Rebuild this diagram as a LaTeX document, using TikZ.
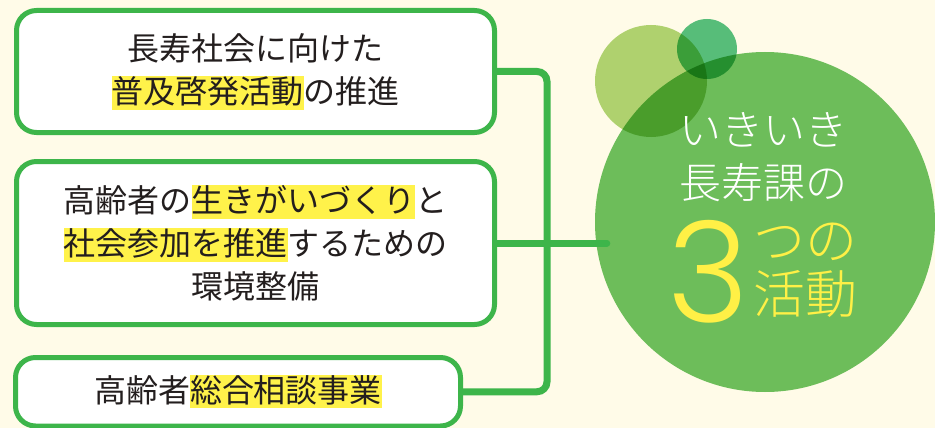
\documentclass[tikz,border=0pt]{standalone}
\usepackage{fontspec}
\setmainfont{Noto Sans CJK JP}
\newfontfamily\numfont{Poppins Light}
\newfontfamily\lightfont{Noto Sans CJK JP Light}
\usetikzlibrary{positioning,calc}

\definecolor{bgcream}{RGB}{255,251,232}
\definecolor{linegreen}{RGB}{61,181,74}
\definecolor{biggreen}{RGB}{109,189,90}
\definecolor{lightgreen}{RGB}{175,213,122}
\definecolor{tealgreen}{RGB}{87,193,134}
\definecolor{hlyellow}{RGB}{255,242,74}
\definecolor{txtyellow}{RGB}{255,240,70}
\definecolor{txtdark}{RGB}{35,30,30}

\newcommand{\hl}[1]{{\setlength{\fboxsep}{0pt}\colorbox{hlyellow}{\rule[-0.2em]{0pt}{0.98em}#1}}}

\begin{document}
\begin{tikzpicture}[
    x=1pt, y=-1pt,
    actbox/.style={rectangle, draw=linegreen, line width=5pt, fill=white, rounded corners=20pt,
        minimum width=478pt, align=center, text=txtdark, font=\fontsize{32}{43}\selectfont},
    link/.style={draw=linegreen, line width=7pt},
    blob/.style={circle, inner sep=0pt}
]
\useasboundingbox[fill=bgcream] (0,0) rectangle (935,428);

% circles
\node[blob, fill=biggreen, minimum size=340pt] (main) at (765,222) {};
\begin{scope}[blend mode=multiply]
\node[blob, fill=lightgreen, minimum size=112pt] (bubA) at (651,81) {};
\node[blob, fill=tealgreen, minimum size=60pt] (bubB) at (707,49) {};
\end{scope}

% activity boxes
\node[actbox, minimum height=122pt] (act1) at (255.5,71.5) {長寿社会に向けた\\\hl{普及啓発活動}の推進};
\node[actbox, minimum height=163pt] (act2) at (255.5,243) {高齢者の\hl{生きがいづくり}と\\\hl{社会参加を推進}するための\\環境整備};
\node[actbox, minimum height=68.5pt, minimum width=445pt] (act3) at (238,391.75) {高齢者\hl{総合相談事業}};

% connectors
\coordinate (jtop) at (547,71.5);
\coordinate (jbot) at (547,391.75);
\coordinate (tip) at ($(main.west)+(12,0)$);
\draw[link, rounded corners=10pt] (act1.east) -- (jtop) -- (jbot) -- (act3.east);
\draw[link, line cap=round] (act2.east) -- (tip |- act2.east);

% title text
\node[text=white, font=\lightfont\fontsize{42}{42}\selectfont] (title1) at (763,130) {いきいき};
\node[text=white, font=\lightfont\fontsize{42}{42}\selectfont] (title2) at (763,183) {長寿課の};
\node[text=txtyellow, font=\numfont\fontsize{140}{140}\selectfont, inner sep=0pt] (three) at (708,272) {3};
\node[text=txtyellow, font=\lightfont\fontsize{52}{54}\selectfont, align=center, inner sep=0pt] (count) at (805,270) {つの\\活動};

\end{tikzpicture}
\end{document}
